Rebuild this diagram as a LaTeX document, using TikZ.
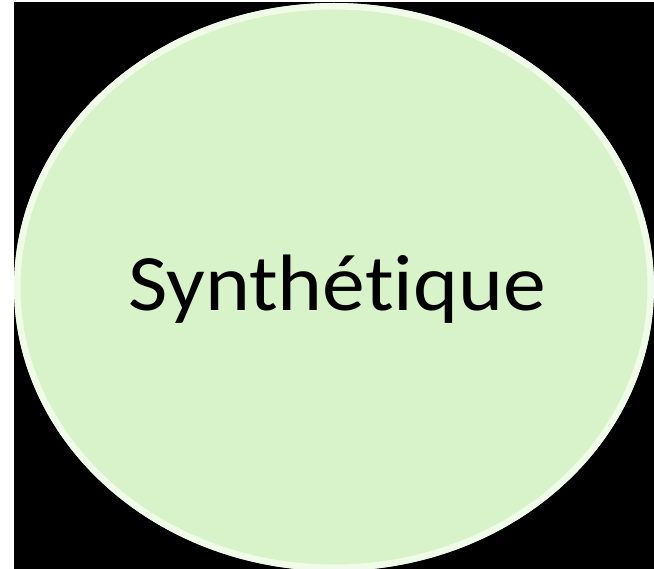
\documentclass[tikz,border=0pt]{standalone}
\usepackage{fontspec}
\setmainfont[Ligatures={NoCommon,NoContextual}]{Carlito}
\definecolor{ovalgreen}{RGB}{216,242,202}
\definecolor{rimwhite}{RGB}{246,255,240}
\begin{document}
\begin{tikzpicture}[x=1pt,y=-1pt,
  ovalstyle/.style={fill=ovalgreen},
  labelstyle/.style={font=\fontsize{80}{90}\selectfont, text=black, xscale=1.07}]
\useasboundingbox (0,0) rectangle (654,569);
\fill[white] (0,0) rectangle (654,569);
\fill[black] (14,2.5) rectangle (654,569);
\begin{scope}
\clip (0,0) rectangle (654,569);
\fill[ovalstyle] (334,287) ellipse [x radius=320, y radius=284];
\draw[rimwhite, line width=5, opacity=0.8] (334,287) ellipse [x radius=316, y radius=280];
\draw[white!60!ovalgreen, line width=2] (334,287) ellipse [x radius=319, y radius=283];
\end{scope}
\node[labelstyle] (lbl) at (337,289) {Synthétique};
\end{tikzpicture}
\end{document}
